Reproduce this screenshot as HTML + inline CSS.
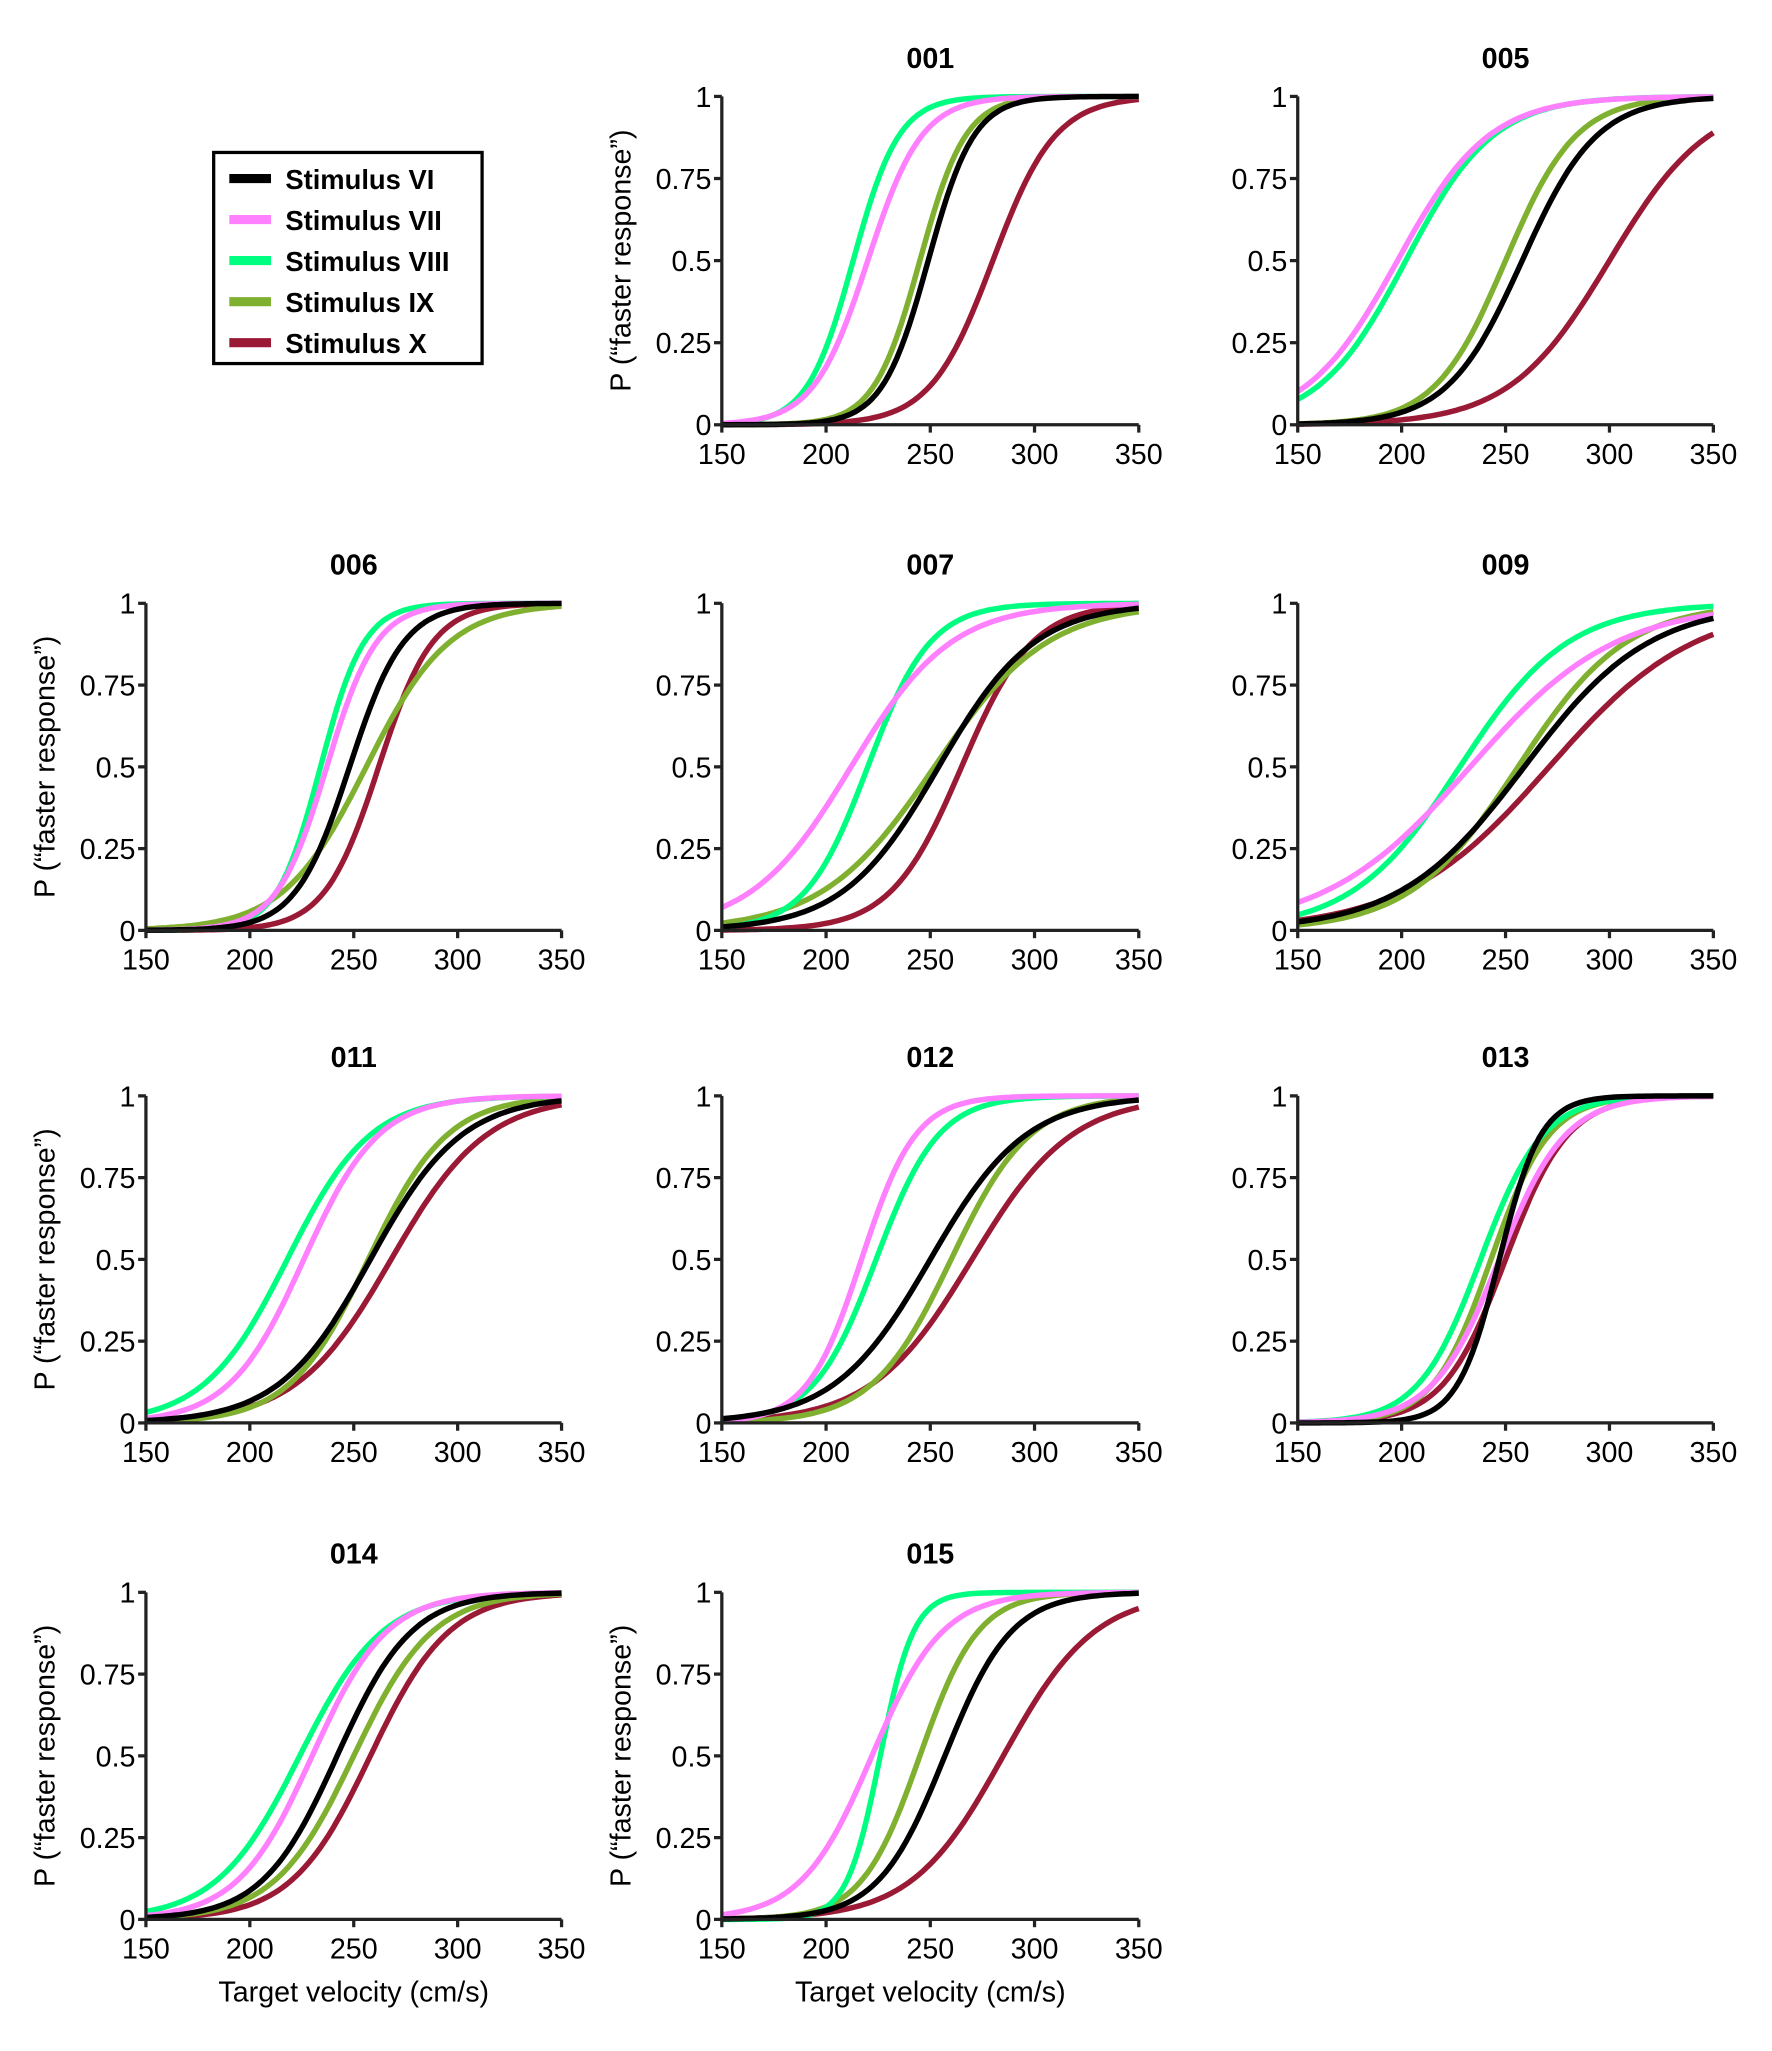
<!DOCTYPE html>
<html><head><meta charset="utf-8"><style>html,body{margin:0;padding:0;background:#fff}svg{display:block}</style></head>
<body>
<svg id="fig" width="1772" height="2051" viewBox="0 0 1360 1574" preserveAspectRatio="none" xmlns="http://www.w3.org/2000/svg" font-family="Liberation Sans, Arial, sans-serif"></svg>
<script>
const series = ["Stimulus VI","Stimulus VII","Stimulus VIII","Stimulus IX","Stimulus X"];
const colors = ["#000000","#ff80ff","#00ff80","#80b030","#9a1a35"];
const panels = ["001","005","006","007","009","011","012","013","014","015"];
// thresholds (cm/s at P=0.5) per panel, order VI, VII, VIII, IX, X
const mu001=[249,220,213,245,280], sd001=[11,13,11,11,15];
const mu005=[258,198,202,250,300], sd005=[18,22,21,17,24];
const mu006=[248,237,234,256,262], sd006=[13,12,10.5,20,13];
const mu007=[254,212,220,252,265], sd007=[23,24,15,27,17];
const mu009=[259,233,228,256,271], sd009=[30,35,26,26,35];
const mu011=[258,226,218,257,268], sd011=[22,18,20,19,23];
const mu012=[250,217,224,260,270], sd012=[23,13,15,19,24];
const mu013=[247,247,238,243,250], sd013=[10,16,15,14,15];
const mu014=[242,230,224,250,258], sd014=[18,18,20,19,19];
const mu015=[257,222,226,245,285], sd015=[16,17,8,14,22];
const mus=[mu001,mu005,mu006,mu007,mu009,mu011,mu012,mu013,mu014,mu015];
const sds=[sd001,sd005,sd006,sd007,sd009,sd011,sd012,sd013,sd014,sd015];
const xTicks=[150,200,250,300,350];
const yTicks=[0,0.25,0.5,0.75,1];
const yTickLabels=["0","0.25","0.5","0.75","1"];
const withYLabel=["001","006","011","014","015"];

const NS="http://www.w3.org/2000/svg";
const svg=document.getElementById('fig');
function mk(tag,attrs,parent){const e=document.createElementNS(NS,tag);for(const k in attrs)e.setAttribute(k,attrs[k]);(parent||svg).appendChild(e);return e;}

const colX=[[112,431],[554,874],[996,1315]];
const rowY=[[74,326],[463,714],[841,1092],[1222,1473]];
const slots=[[0,1],[0,2],[1,0],[1,1],[1,2],[2,0],[2,1],[2,2],[3,0],[3,1]];

panels.forEach((pid,pi)=>{
  const [r,c]=slots[pi];
  const [x0,x1]=colX[c];const [yt,yb]=rowY[r];
  const g=mk('g',{});
  
  
  const sx=v=>x0+(v-150)/200*(x1-x0);
  const sy=p=>yb-p*(yb-yt);
  const t=mk('text',{x:(x0+x1)/2,y:yt-22,'text-anchor':'middle','font-size':22,'font-weight':'bold'},g);
  t.textContent=pid;
  
  
  for(let s=series.length-1;s>=0;s--){
    let d='';
    for(let v=150;v<=350;v+=2){
      const p=1/(1+Math.exp(-(v-mus[pi][s])/sds[pi][s]));
      d+=(v===150?'M':'L')+sx(v).toFixed(1)+','+sy(p).toFixed(1);
    }
    const path=mk('path',{d:d,fill:'none',stroke:colors[s],'stroke-width':4.2,'stroke-linejoin':'round'},g);
    
    
  }
  const ax=mk('path',{d:`M${x0},${yt}L${x0},${yb}L${x1},${yb}`,fill:'none',stroke:'#222','stroke-width':2.5},g);
  
  
  yTicks.forEach((v,i)=>{
    mk('line',{x1:x0-6,x2:x0,y1:sy(v),y2:sy(v),stroke:'#222','stroke-width':2.5},g);
    const tl=mk('text',{x:x0-8,y:sy(v)+8,'text-anchor':'end','font-size':22},g);
    tl.textContent=yTickLabels[i];
    
    
  });
  xTicks.forEach(v=>{
    mk('line',{x1:sx(v),x2:sx(v),y1:yb,y2:yb+6,stroke:'#222','stroke-width':2.5},g);
    const tl=mk('text',{x:sx(v),y:yb+30,'text-anchor':'middle','font-size':22},g);
    tl.textContent=String(v);
    
    
  });
  if(withYLabel.includes(pid)){
    const yl=mk('text',{x:0,y:0,'text-anchor':'middle','font-size':22,transform:`translate(${x0-70},${(yt+yb)/2}) rotate(-90)`},g);
    yl.textContent='P (\u201cfaster response\u201d)';
    
    
  }
  if(r===3){
    const xl=mk('text',{x:(x0+x1)/2,y:1536,'text-anchor':'middle','font-size':22},g);
    xl.textContent='Target velocity (cm/s)';
    
    
  }
});

const lg=mk('g',{});


mk('rect',{x:164,y:117,width:206,height:162,fill:'#fff',stroke:'#000','stroke-width':2.5},lg);
series.forEach((s,i)=>{
  const y=137+i*31.5;
  const ln=mk('line',{x1:176,x2:208,y1:y,y2:y,stroke:colors[i],'stroke-width':7},lg);
  
  
  const tx=mk('text',{x:219,y:y+8,'font-size':21,'font-weight':'bold'},lg);
  tx.textContent=s;
  
  
});
</script>
</body></html>
